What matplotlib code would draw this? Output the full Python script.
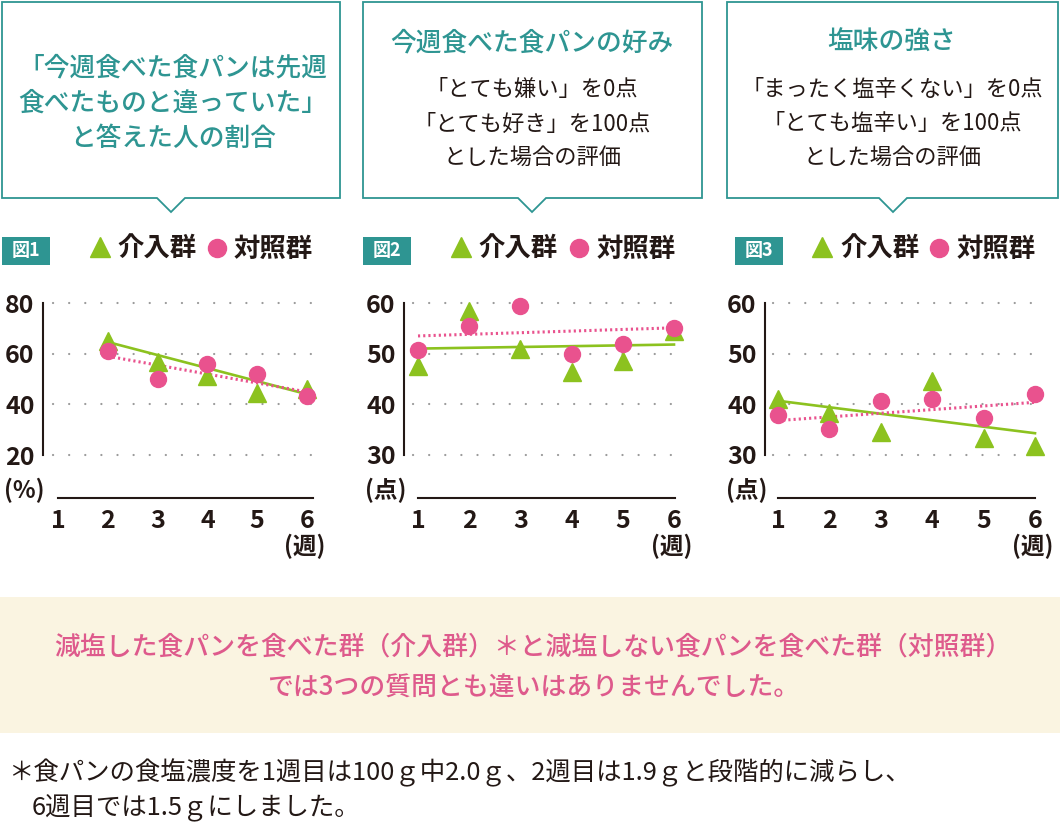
import numpy as np
import matplotlib
matplotlib.use("Agg")
import matplotlib.pyplot as plt
from matplotlib.patches import Polygon, Rectangle

plt.rcParams['font.family'] = ['Noto Sans CJK JP', 'DejaVu Sans']

# ---- data ----
fig1_weeks = [2, 3, 4, 5, 6]
fig1_int = [65.0, 56.7, 51.0, 44.5, 46.2]
fig1_ctl = [61.0, 50.0, 55.8, 51.8, 43.3]
fig1_trend_weeks = [2, 6]
fig1_int_trend = [64.6, 44.0]
fig1_ctl_trend = [59.0, 44.9]

fig2_weeks = [1, 2, 3, 4, 5, 6]
fig2_int = [47.5, 58.5, 50.9, 46.4, 48.5, 54.4]
fig2_ctl = [50.7, 55.4, 59.5, 49.9, 52.0, 55.1]
fig2_trend_weeks = [1, 6]
fig2_int_trend = [51.0, 51.8]
fig2_ctl_trend = [53.5, 55.1]

fig3_weeks = [1, 2, 3, 4, 5, 6]
fig3_int = [41.1, 38.3, 34.5, 44.6, 33.4, 31.8]
fig3_ctl = [37.8, 35.1, 40.6, 41.0, 37.4, 42.0]
fig3_trend_weeks = [1, 6]
fig3_int_trend = [40.7, 34.3]
fig3_ctl_trend = [36.8, 40.4]

fig1_yticks = [20, 40, 60, 80]
fig23_yticks = [30, 40, 50, 60]
xticks = [1, 2, 3, 4, 5, 6]

fig_labels = ['図1', '図2', '図3']
unit_labels = ['(%)', '(点)', '(点)']
week_label = '(週)'
legend_int = '介入群'
legend_ctl = '対照群'

box1_lines = ['「今週食べた食パンは先週', '食べたものと違っていた」', 'と答えた人の割合']
box2_title = '今週食べた食パンの好み'
box2_lines = ['「とても嫌い」を0点', '「とても好き」を100点', 'とした場合の評価']
box3_title = '塩味の強さ'
box3_lines = ['「まったく塩辛くない」を0点', '「とても塩辛い」を100点', 'とした場合の評価']

summary_lines = ['減塩した食パンを食べた群（介入群）＊と減塩しない食パンを食べた群（対照群）',
                 'では3つの質問とも違いはありませんでした。']
note_lines = ['＊食パンの食塩濃度を1週目は100ｇ中2.0ｇ、2週目は1.9ｇと段階的に減らし、',
              '6週目では1.5ｇにしました。']

# ---- colours ----
TEAL = '#2e9592'
GREEN = '#8cc21f'
PINK = '#e9528e'
PINK_TXT = '#de5a8c'
DARK = '#231815'
BEIGE = '#faf4e1'

W, H = 1060, 827
fig = plt.figure(figsize=(W / 100, H / 100), dpi=100)

# overlay in pixel coords for boxes / labels
ov = fig.add_axes([0, 0, 1, 1])
ov.set_xlim(0, W)
ov.set_ylim(H, 0)
ov.axis('off')


def callout(x0, x1, y0, y1, cx):
    pts = [(x0, y0), (x1, y0), (x1, y1), (cx + 14, y1), (cx, y1 + 14),
           (cx - 14, y1), (x0, y1)]
    ov.add_patch(Polygon(pts, closed=True, fill=False, edgecolor=TEAL, lw=1.3))


callout(2, 340, 2, 198, 171)
callout(363, 702, 2, 198, 532)
callout(727, 1058, 2, 198, 893)

for ln, y in zip(box1_lines, [68, 103, 138]):
    ov.text(173, y, ln, color=TEAL, fontsize=18.5, ha='center', va='center', fontweight='medium')
ov.text(532, 43, box2_title, color=TEAL, fontsize=18.5, ha='center', va='center', fontweight='medium')
ov.text(892, 42, box3_title, color=TEAL, fontsize=18.5, ha='center', va='center', fontweight='medium')
for ln, y in zip(box2_lines, [89, 124, 157]):
    ov.text(532, y, ln, color=DARK, fontsize=16, ha='center', va='center')
for ln, y in zip(box3_lines, [90, 124, 157]):
    ov.text(892, y, ln, color=DARK, fontsize=16, ha='center', va='center')

# summary panel and footnote
ov.add_patch(Rectangle((0, 597), W, 136, facecolor=BEIGE, edgecolor='none'))
ov.text(533, 647, summary_lines[0], color=PINK_TXT, fontsize=18.6, ha='center', va='center',
        fontweight='medium')
ov.text(533, 688, summary_lines[1], color=PINK_TXT, fontsize=18.6, ha='center', va='center',
        fontweight='medium')
ov.text(8, 773, note_lines[0], color=DARK, fontsize=18.3, ha='left', va='center')
ov.text(32, 808, note_lines[1], color=DARK, fontsize=18.3, ha='left', va='center')

# chart layouts in pixels
layouts = [
    dict(yax=43, gs=53, ge=315, x1=58, x6=307, xend=313, badge=2, tri=100, t1=117, circ=217, t2=234),
    dict(yax=404, gs=413, ge=675, x1=418, x6=674, xend=675, badge=363, tri=461, t1=478, circ=579, t2=597),
    dict(yax=765, gs=773, ge=1037, x1=778, x6=1035, xend=1035, badge=735, tri=822, t1=840, circ=939, t2=957),
]
charts = [
    (fig1_weeks, fig1_int, fig1_ctl, fig1_trend_weeks, fig1_int_trend, fig1_ctl_trend, fig1_yticks),
    (fig2_weeks, fig2_int, fig2_ctl, fig2_trend_weeks, fig2_int_trend, fig2_ctl_trend, fig23_yticks),
    (fig3_weeks, fig3_int, fig3_ctl, fig3_trend_weeks, fig3_int_trend, fig3_ctl_trend, fig23_yticks),
]

TOP, YBOT, AXIS = 303, 455, 498

for i, (lay, ch) in enumerate(zip(layouts, charts)):
    weeks, yi, yc, tw, ti, tc, yt = ch
    ax = fig.add_axes([lay['yax'] / W, 1 - AXIS / H, (lay['ge'] - lay['yax']) / W, (AXIS - TOP) / H])
    ax.set_facecolor('none')
    ppu = (lay['x6'] - lay['x1']) / 5
    px2x = lambda p: 1 + (p - lay['x1']) / ppu
    ax.set_xlim(px2x(lay['yax']), px2x(lay['ge']))
    ppy = (YBOT - TOP) / (yt[-1] - yt[0])
    ax.set_ylim(yt[0] - (AXIS - YBOT) / ppy, yt[-1])

    # dotted grid
    for yv in yt:
        ln, = ax.plot([px2x(lay['gs']), px2x(lay['ge'])], [yv, yv], color='#9a9a9a', lw=1.6,
                      linestyle=(0, (0.05, 7.2)), zorder=1, clip_on=False)
        ln.set_dash_capstyle('round')

    for s in ['top', 'right']:
        ax.spines[s].set_visible(False)
    ax.spines['left'].set_bounds(yt[0], yt[-1])
    ax.spines['bottom'].set_bounds(1, px2x(lay['xend']))
    for s in ['left', 'bottom']:
        ax.spines[s].set_color(DARK)
        ax.spines[s].set_linewidth(1.5)

    ax.set_yticks(yt)
    ax.set_yticklabels([str(v) for v in yt], fontsize=18, fontweight='bold', color=DARK)
    ax.set_xticks(xticks)
    ax.set_xticklabels([str(v) for v in xticks], fontsize=18, fontweight='bold', color=DARK)
    ax.tick_params(axis='y', length=0, pad=6)
    ax.tick_params(axis='x', length=0, pad=8)

    ax.plot(tw, ti, color=GREEN, lw=1.9, zorder=3, clip_on=False)
    lc, = ax.plot(tw, tc, color=PINK, lw=2.2, linestyle=(0, (0.7, 1.0)), zorder=3, clip_on=False)
    ax.plot(weeks, yi, linestyle='none', marker='^', ms=13.5, color=GREEN, zorder=4, clip_on=False)
    ax.plot(weeks, yc, linestyle='none', marker='o', ms=11.5, color=PINK, zorder=5, clip_on=False)

    # unit labels
    ov.text(lay['yax'] + 2, 490, unit_labels[i], fontsize=17, fontweight='bold', color=DARK,
            ha='right', va='center')
    ov.text(lay['x6'] - 2, 546, week_label, fontsize=17, fontweight='bold', color=DARK,
            ha='center', va='center')

    # badge + legend
    ov.add_patch(Rectangle((lay['badge'], 237), 48, 28, facecolor=TEAL, edgecolor='none'))
    ov.text(lay['badge'] + 24, 251, fig_labels[i], color='white', fontsize=13, fontweight='bold',
            ha='center', va='center')
    ov.plot(lay['tri'], 247, marker='^', ms=14, color=GREEN, linestyle='none')
    ov.text(lay['t1'], 249, legend_int, fontsize=19, fontweight='bold', color=DARK, ha='left', va='center')
    ov.plot(lay['circ'], 248, marker='o', ms=13, color=PINK, linestyle='none')
    ov.text(lay['t2'], 249, legend_ctl, fontsize=19, fontweight='bold', color=DARK, ha='left', va='center')

fig.savefig('out.png', dpi=100, facecolor='white')
